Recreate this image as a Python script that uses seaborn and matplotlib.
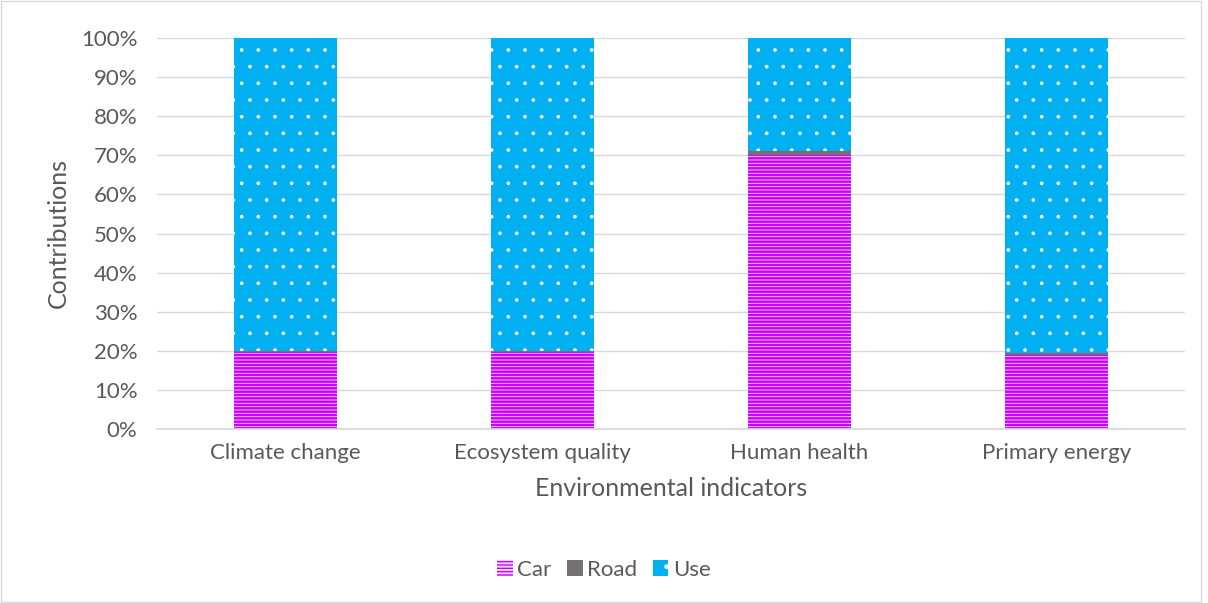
import pandas as pd
import numpy as np
import matplotlib
matplotlib.use("Agg")
import matplotlib.pyplot as plt
import seaborn as sns
from matplotlib.patches import Patch, Rectangle

indicators = ["Climate change", "Ecosystem quality", "Human health", "Primary energy"]
car = [19.6, 19.6, 70.0, 19.0]
road = [0.3, 0.3, 1.2, 0.4]
use = [80.1, 80.1, 28.8, 80.6]

sns.set_theme(style="white")
plt.rcParams["font.family"] = ["Lato", "DejaVu Sans"]

TXT = "#595959"
CAR_C = "#CC00FF"
CAR_BG = "#F3D6FB"
ROAD_C = "#767171"
USE_C = "#00B0F0"

df = pd.DataFrame({"indicator": indicators, "car": car, "road": road, "use": use})
df["car_road"] = df["car"] + df["road"]
df["total"] = df["car_road"] + df["use"]

fig = plt.figure(figsize=(12.08, 6.03), dpi=100)
ax = fig.add_axes([157 / 1208, 1 - 429 / 603, (1185 - 157) / 1208, (429 - 38) / 603])

# stacked bars drawn as layered cumulative heights
with plt.rc_context({"hatch.linewidth": 0.2}):
    sns.barplot(data=df, x="indicator", y="total", color=USE_C, width=0.4, ax=ax,
                saturation=1, linewidth=0, edgecolor="white", hatch=".")
sns.barplot(data=df, x="indicator", y="car_road", color=ROAD_C, width=0.4, ax=ax,
            saturation=1, linewidth=0)
with plt.rc_context({"hatch.linewidth": 1.8}):
    sns.barplot(data=df, x="indicator", y="car", color=CAR_BG, width=0.4, ax=ax,
                saturation=1, linewidth=0, edgecolor=CAR_C, hatch="-----")

ax.set_ylim(0, 100)
ax.set_yticks(np.arange(0, 101, 10))
ax.set_yticklabels([f"{v}%" for v in range(0, 101, 10)])
ax.yaxis.grid(True, color="#D9D9D9", linewidth=1)
ax.set_axisbelow(True)
for s in ["top", "right", "left"]:
    ax.spines[s].set_visible(False)
ax.spines["bottom"].set_color("#D9D9D9")
ax.tick_params(axis="both", colors=TXT, labelsize=16, length=0)
ax.tick_params(axis="y", pad=14)
ax.tick_params(axis="x", pad=10)
ax.set_xlabel("Environmental indicators", color=TXT, fontsize=18, labelpad=10)
ax.set_ylabel("Contributions", color=TXT, fontsize=18, labelpad=8)

with plt.rc_context({"hatch.linewidth": 0.2}):
    use_h = Patch(facecolor=USE_C, edgecolor="white", hatch=".", linewidth=0, label="Use")
with plt.rc_context({"hatch.linewidth": 1.8}):
    car_h = Patch(facecolor=CAR_BG, edgecolor=CAR_C, hatch="-----", linewidth=0, label="Car")
road_h = Patch(facecolor=ROAD_C, linewidth=0, label="Road")
fig.legend(handles=[car_h, road_h, use_h], loc="center", bbox_to_anchor=(0.5, 1 - 570 / 603),
           ncol=3, frameon=False, fontsize=16, labelcolor=TXT, handlelength=0.7,
           handleheight=0.7, handletextpad=0.2, columnspacing=0.7)

fig.patches.append(Rectangle((0.001, 0.002), 0.993, 0.996, transform=fig.transFigure,
                             fill=False, edgecolor="#D9D9D9", linewidth=1))

fig.savefig("out.png", dpi=100)
